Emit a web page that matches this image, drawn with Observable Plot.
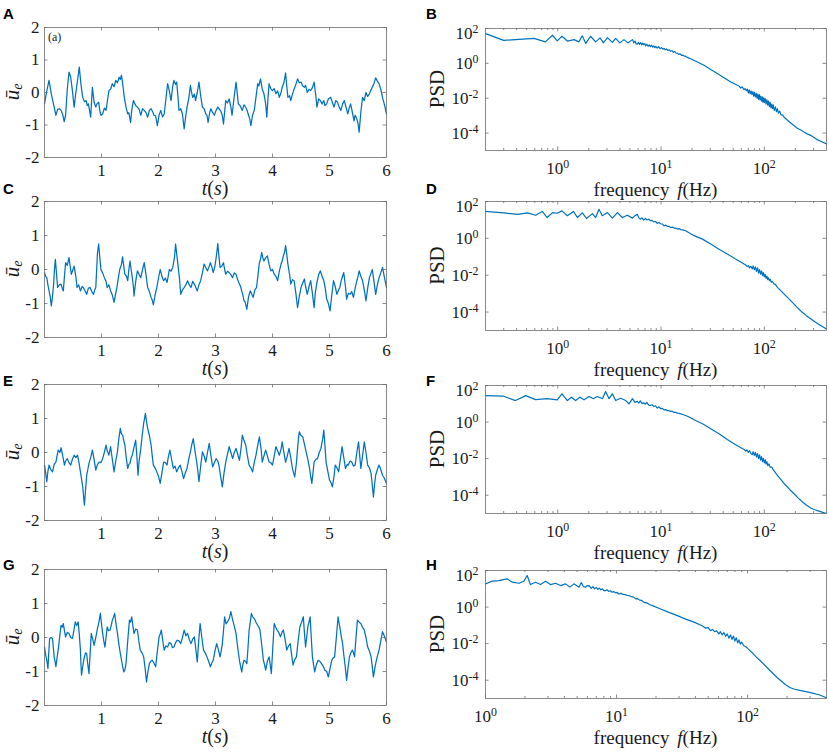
<!DOCTYPE html>
<html><head><meta charset="utf-8">
<script src="https://cdn.jsdelivr.net/npm/d3@7"></script>
<script src="https://cdn.jsdelivr.net/npm/@observablehq/plot@0.6"></script>
<style>
body{margin:0;background:#fff;}
#fig{position:relative;width:829px;height:752px;overflow:hidden;}
#fig svg{position:absolute;overflow:visible;}
#fig svg text.serif{font-family:'Liberation Serif','Times New Roman',serif;}
</style></head><body><div id="fig"></div><script>
// ---------- tick values ----------
const timeTicks = [1,2,3,4,5,6];
const ueTicks = [-2,-1,0,1,2];
const psdTicks = [1e-4,1e-2,1,1e2];
const freqMajor = [1,10,100];
const freqMinor = [0.2,0.3,0.4,0.5,0.6,0.7,0.8,0.9,2,3,4,5,6,7,8,9,20,30,40,50,60,70,80,90,200,300,400];

// ---------- time series [t (s), ū_e] ----------
const seriesA = [[0,-0.35],[0.04,0.05],[0.08,0.37],[0.12,-0.05],[0.17,-0.45],[0.2,-0.7],[0.23,-0.52],[0.26,-0.5],[0.29,-0.55],[0.32,-0.68],[0.345,-0.9],[0.37,-0.7],[0.4,0.1],[0.43,0.63],[0.46,0.47],[0.49,0.05],[0.52,-0.45],[0.55,0.0],[0.58,0.37],[0.61,0.78],[0.64,0.25],[0.67,-0.15],[0.7,-0.28],[0.73,-0.25],[0.75,-0.4],[0.77,-0.35],[0.79,-0.55],[0.81,-0.76],[0.84,0.16],[0.87,-0.3],[0.9,-0.45],[0.92,-0.35],[0.95,-0.3],[0.97,-0.55],[0.99,-0.7],[1.02,-0.66],[1.05,-0.48],[1.08,-0.55],[1.1,-0.3],[1.13,0.06],[1.16,0.1],[1.19,0.27],[1.22,0.18],[1.25,0.37],[1.28,0.3],[1.31,0.47],[1.33,0.4],[1.35,0.53],[1.37,0.3],[1.4,-0.15],[1.43,-0.45],[1.46,-0.66],[1.48,-0.62],[1.51,-0.92],[1.53,-0.55],[1.56,-0.25],[1.6,-0.4],[1.63,-0.45],[1.66,-0.52],[1.69,-0.7],[1.72,-0.5],[1.75,-0.55],[1.78,-0.62],[1.81,-0.76],[1.84,-0.55],[1.87,-0.5],[1.9,-0.6],[1.92,-0.7],[1.95,-0.72],[1.98,-1.02],[2.01,-0.7],[2.04,-0.55],[2.07,-0.75],[2.1,-0.66],[2.13,-0.2],[2.16,0.27],[2.19,0.05],[2.22,-0.25],[2.25,0.2],[2.27,0.37],[2.3,0.25],[2.32,0.32],[2.34,-0.1],[2.36,-0.55],[2.39,-0.5],[2.42,-0.66],[2.45,-1.12],[2.48,-0.7],[2.5,-0.45],[2.53,-0.2],[2.56,0.22],[2.58,0.0],[2.6,-0.15],[2.63,-0.05],[2.65,-0.25],[2.68,0.0],[2.71,0.32],[2.74,-0.1],[2.77,-0.45],[2.8,-0.5],[2.83,-0.66],[2.85,-0.7],[2.87,-0.92],[2.9,-0.6],[2.92,-0.5],[2.95,-0.62],[2.98,-0.7],[3.01,-0.55],[3.04,-0.45],[3.07,-0.52],[3.1,-0.6],[3.12,-0.72],[3.14,-0.97],[3.16,-0.6],[3.18,-0.25],[3.21,-0.32],[3.24,-0.2],[3.27,-0.45],[3.29,-0.7],[3.33,-0.1],[3.36,0.32],[3.38,0.0],[3.4,-0.35],[3.43,-0.4],[3.47,-0.55],[3.5,-0.38],[3.53,-0.45],[3.56,-0.58],[3.59,-0.76],[3.6,-0.8],[3.62,-1.02],[3.65,-0.7],[3.68,-0.55],[3.71,-0.15],[3.74,0.27],[3.76,0.2],[3.79,0.42],[3.82,0.1],[3.85,-0.04],[3.88,-0.35],[3.9,-0.76],[3.92,-0.2],[3.94,0.27],[3.97,0.12],[4.0,0.06],[4.03,0.12],[4.06,-0.04],[4.09,0.05],[4.12,-0.15],[4.15,0.0],[4.17,0.16],[4.2,0.3],[4.23,0.6],[4.25,0.2],[4.27,-0.15],[4.3,-0.1],[4.32,-0.25],[4.35,-0.05],[4.38,0.11],[4.41,0.25],[4.44,0.42],[4.47,0.3],[4.5,0.32],[4.53,0.2],[4.56,0.16],[4.58,0.22],[4.61,0.0],[4.64,0.1],[4.67,0.06],[4.7,0.15],[4.73,0.32],[4.76,-0.1],[4.78,-0.45],[4.81,-0.2],[4.84,-0.25],[4.87,-0.35],[4.9,-0.25],[4.92,-0.4],[4.95,-0.35],[4.98,-0.2],[5.02,-0.15],[5.05,-0.3],[5.08,-0.45],[5.11,-0.25],[5.14,-0.3],[5.17,-0.45],[5.2,-0.55],[5.23,-0.35],[5.26,-0.25],[5.29,-0.45],[5.32,-0.66],[5.35,-0.45],[5.37,-0.35],[5.4,-0.6],[5.43,-0.87],[5.45,-0.7],[5.48,-0.81],[5.5,-0.95],[5.52,-1.22],[5.55,-0.6],[5.58,-0.15],[5.61,-0.25],[5.64,0.0],[5.67,-0.12],[5.7,-0.04],[5.72,0.05],[5.75,0.16],[5.78,0.28],[5.81,0.45],[5.84,0.35],[5.87,0.27],[5.9,0.1],[5.93,-0.15],[5.96,-0.35],[6.0,-0.66]];
const seriesC = [[0,-0.09],[0.02,-0.2],[0.04,-0.24],[0.06,-0.45],[0.08,-0.63],[0.1,-0.8],[0.12,-1.07],[0.14,-0.8],[0.16,-0.43],[0.175,0.0],[0.19,0.3],[0.21,-0.1],[0.23,-0.53],[0.26,-0.45],[0.29,-0.43],[0.31,-0.55],[0.33,-0.63],[0.35,-0.2],[0.37,0.2],[0.4,0.12],[0.43,0.35],[0.45,0.1],[0.47,-0.14],[0.5,0.0],[0.52,0.1],[0.55,-0.2],[0.57,-0.53],[0.6,-0.45],[0.63,-0.63],[0.66,-0.5],[0.68,-0.53],[0.71,-0.62],[0.74,-0.73],[0.77,-0.55],[0.8,-0.53],[0.83,-0.65],[0.86,-0.73],[0.88,-0.6],[0.9,-0.53],[0.915,0.0],[0.93,0.5],[0.95,0.75],[0.97,0.35],[0.99,0.0],[1.02,-0.1],[1.05,-0.24],[1.08,-0.35],[1.1,-0.53],[1.13,-0.45],[1.16,-0.63],[1.19,-0.75],[1.22,-0.97],[1.25,-0.7],[1.27,-0.53],[1.3,-0.2],[1.32,0.0],[1.35,0.15],[1.37,0.37],[1.39,0.1],[1.41,-0.14],[1.44,-0.2],[1.46,-0.33],[1.48,0.0],[1.5,0.25],[1.52,0.0],[1.54,-0.24],[1.56,-0.5],[1.57,-0.78],[1.6,-0.35],[1.63,-0.04],[1.66,-0.15],[1.69,-0.24],[1.72,0.0],[1.75,0.2],[1.78,-0.15],[1.81,-0.53],[1.84,-0.65],[1.87,-0.82],[1.89,-0.9],[1.91,-1.04],[1.94,-0.75],[1.97,-0.53],[2.0,-0.25],[2.03,0.0],[2.06,-0.2],[2.09,-0.33],[2.12,-0.25],[2.15,-0.38],[2.17,-0.2],[2.19,0.0],[2.22,-0.05],[2.25,0.06],[2.28,0.35],[2.3,0.75],[2.32,0.45],[2.34,0.16],[2.37,-0.3],[2.39,-0.73],[2.42,-0.6],[2.45,-0.53],[2.48,-0.45],[2.51,-0.33],[2.54,-0.45],[2.57,-0.53],[2.6,-0.35],[2.63,-0.43],[2.66,-0.55],[2.68,-0.63],[2.71,-0.45],[2.74,-0.33],[2.77,-0.1],[2.8,0.16],[2.83,0.05],[2.86,-0.04],[2.89,0.1],[2.91,0.2],[2.94,0.05],[2.96,-0.09],[2.99,0.1],[3.01,0.33],[3.03,0.6],[3.04,0.76],[3.06,0.4],[3.08,0.06],[3.11,0.1],[3.14,0.2],[3.16,0.0],[3.18,-0.14],[3.21,-0.05],[3.24,-0.09],[3.27,-0.15],[3.3,-0.24],[3.33,-0.1],[3.36,-0.14],[3.39,-0.3],[3.42,-0.43],[3.44,-0.5],[3.46,-0.63],[3.48,-0.75],[3.5,-0.92],[3.52,-0.95],[3.55,-1.17],[3.58,-0.8],[3.61,-0.63],[3.63,-0.7],[3.66,-0.82],[3.69,-0.6],[3.72,-0.53],[3.75,-0.1],[3.77,0.2],[3.79,0.3],[3.81,0.5],[3.83,0.35],[3.85,0.25],[3.88,0.35],[3.91,0.4],[3.94,0.15],[3.97,-0.04],[4.0,0.0],[4.03,-0.14],[4.06,-0.2],[4.09,-0.33],[4.12,-0.05],[4.15,0.16],[4.17,0.25],[4.19,0.4],[4.21,0.5],[4.23,0.7],[4.25,0.45],[4.27,0.16],[4.3,-0.15],[4.32,-0.43],[4.35,-0.3],[4.38,-0.33],[4.41,-0.7],[4.44,-1.12],[4.47,-0.8],[4.5,-0.53],[4.53,-0.4],[4.56,-0.28],[4.58,-0.5],[4.61,-0.73],[4.64,-0.5],[4.67,-0.33],[4.7,-0.7],[4.73,-1.12],[4.75,-0.7],[4.78,-0.38],[4.81,-0.15],[4.84,-0.04],[4.87,-0.2],[4.9,-0.33],[4.93,-0.6],[4.95,-0.87],[4.98,-1.0],[5.01,-1.22],[5.04,-0.75],[5.07,-0.33],[5.1,-0.5],[5.13,-0.73],[5.16,-0.6],[5.18,-0.53],[5.21,-0.3],[5.25,-0.09],[5.28,-0.5],[5.3,-0.87],[5.33,-0.7],[5.36,-0.73],[5.39,-0.65],[5.42,-0.82],[5.45,-0.55],[5.48,-0.33],[5.5,-0.2],[5.52,-0.04],[5.55,-0.2],[5.58,-0.33],[5.61,-0.6],[5.64,-0.92],[5.67,-0.55],[5.7,-0.24],[5.73,-0.1],[5.75,0.0],[5.78,-0.35],[5.81,-0.73],[5.84,-0.45],[5.87,-0.24],[5.9,-0.1],[5.93,0.06],[5.96,-0.2],[6.0,-0.53]];
const seriesE = [[0,-0.37],[0.02,-0.6],[0.04,-0.86],[0.06,-0.55],[0.08,-0.37],[0.11,-0.5],[0.14,-0.57],[0.17,-0.35],[0.2,-0.28],[0.22,-0.1],[0.24,0.07],[0.27,0.0],[0.29,0.14],[0.32,-0.1],[0.35,-0.37],[0.37,-0.25],[0.4,-0.18],[0.43,-0.3],[0.46,-0.37],[0.49,-0.2],[0.52,-0.08],[0.55,-0.15],[0.58,-0.08],[0.61,-0.35],[0.64,-0.67],[0.67,-1.0],[0.7,-1.55],[0.72,-1.1],[0.74,-0.67],[0.76,-0.5],[0.78,-0.32],[0.81,-0.15],[0.84,0.07],[0.87,-0.2],[0.9,-0.52],[0.93,-0.35],[0.96,-0.28],[0.99,-0.3],[1.02,-0.18],[1.05,0.0],[1.08,0.22],[1.1,0.05],[1.13,-0.08],[1.145,0.05],[1.16,0.17],[1.19,-0.2],[1.22,-0.57],[1.25,-0.25],[1.28,0.02],[1.3,0.35],[1.33,0.71],[1.35,0.55],[1.37,0.51],[1.39,0.35],[1.41,0.22],[1.43,-0.1],[1.46,-0.47],[1.48,-0.35],[1.5,-0.32],[1.52,-0.15],[1.54,-0.08],[1.57,0.15],[1.6,0.36],[1.62,-0.1],[1.64,-0.67],[1.66,-0.25],[1.69,0.12],[1.71,0.45],[1.74,0.86],[1.755,1.0],[1.77,1.15],[1.79,0.9],[1.81,0.71],[1.84,0.5],[1.87,0.22],[1.89,-0.1],[1.91,-0.37],[1.94,-0.45],[1.97,-0.57],[2.0,-0.7],[2.03,-0.91],[2.06,-0.6],[2.09,-0.28],[2.12,-0.3],[2.15,-0.37],[2.17,-0.15],[2.2,0.07],[2.23,-0.2],[2.26,-0.47],[2.29,-0.4],[2.32,-0.57],[2.35,-0.45],[2.38,-0.37],[2.41,-0.55],[2.44,-0.77],[2.47,-0.6],[2.5,-0.47],[2.53,-0.2],[2.56,0.02],[2.58,0.2],[2.61,0.41],[2.64,0.05],[2.67,-0.28],[2.69,-0.55],[2.71,-0.86],[2.74,-0.4],[2.77,0.02],[2.8,-0.1],[2.83,-0.28],[2.86,0.0],[2.89,0.27],[2.92,-0.1],[2.95,-0.42],[2.98,-0.3],[3.01,-0.18],[3.04,-0.25],[3.06,-0.37],[3.09,-0.7],[3.12,-1.01],[3.15,-0.6],[3.18,-0.28],[3.21,-0.05],[3.24,0.17],[3.27,0.0],[3.3,-0.18],[3.33,0.0],[3.36,0.12],[3.39,-0.05],[3.42,-0.23],[3.45,0.15],[3.47,0.51],[3.5,0.35],[3.53,0.22],[3.56,-0.1],[3.59,-0.37],[3.62,-0.45],[3.65,-0.57],[3.68,-0.3],[3.71,-0.08],[3.74,0.2],[3.77,0.46],[3.8,0.1],[3.82,-0.28],[3.85,-0.1],[3.88,0.07],[3.91,-0.1],[3.94,-0.28],[3.97,-0.3],[4.0,-0.37],[4.03,-0.1],[4.06,0.17],[4.09,0.05],[4.12,-0.08],[4.15,0.1],[4.17,0.31],[4.2,0.0],[4.23,-0.28],[4.26,-0.1],[4.29,0.12],[4.32,-0.15],[4.35,-0.47],[4.37,-0.6],[4.39,-0.72],[4.42,-0.3],[4.44,0.12],[4.455,0.4],[4.47,0.61],[4.5,0.5],[4.53,0.46],[4.56,0.25],[4.59,0.02],[4.62,-0.2],[4.65,-0.47],[4.67,-0.7],[4.69,-0.91],[4.71,-0.6],[4.73,-0.28],[4.76,-0.2],[4.79,-0.18],[4.82,0.0],[4.85,0.12],[4.88,0.4],[4.9,0.66],[4.92,0.2],[4.94,-0.28],[4.97,-0.55],[5.0,-0.81],[5.03,-0.9],[5.05,-1.01],[5.08,-0.7],[5.1,-0.37],[5.13,-0.45],[5.16,-0.57],[5.19,-0.2],[5.22,0.17],[5.25,-0.15],[5.28,-0.47],[5.31,-0.35],[5.33,-0.37],[5.36,-0.25],[5.39,-0.28],[5.42,-0.4],[5.45,-0.37],[5.48,0.0],[5.51,0.31],[5.53,-0.1],[5.55,-0.47],[5.58,-0.1],[5.61,0.31],[5.64,0.0],[5.67,-0.37],[5.7,-0.45],[5.73,-0.62],[5.75,-0.95],[5.77,-1.31],[5.79,-0.95],[5.81,-0.67],[5.84,-0.5],[5.87,-0.37],[5.9,-0.5],[5.93,-0.67],[5.96,-0.75],[6.0,-0.91]];
const seriesG = [[0,-0.28],[0.02,-0.5],[0.04,-0.67],[0.06,-0.91],[0.075,-0.45],[0.09,-0.03],[0.115,0.0],[0.14,-0.03],[0.155,-0.3],[0.17,-0.57],[0.185,-0.7],[0.2,-0.86],[0.22,-0.6],[0.24,-0.37],[0.265,0.0],[0.29,0.36],[0.31,0.3],[0.33,0.41],[0.35,0.2],[0.37,0.02],[0.4,0.15],[0.43,0.12],[0.46,0.0],[0.49,-0.03],[0.515,0.2],[0.54,0.46],[0.565,0.35],[0.59,0.46],[0.61,0.1],[0.63,-0.37],[0.64,-0.8],[0.65,-1.11],[0.675,-0.8],[0.7,-0.57],[0.72,-0.45],[0.74,-0.47],[0.76,-0.8],[0.78,-1.06],[0.8,-0.5],[0.82,0.12],[0.845,-0.05],[0.87,-0.23],[0.9,0.0],[0.93,0.27],[0.955,0.45],[0.98,0.71],[1.0,0.4],[1.02,0.12],[1.04,-0.1],[1.06,-0.28],[1.08,0.0],[1.1,0.31],[1.125,0.2],[1.15,0.22],[1.17,0.35],[1.19,0.51],[1.21,0.6],[1.23,0.71],[1.255,0.4],[1.28,0.12],[1.305,-0.2],[1.33,-0.47],[1.36,-0.75],[1.39,-1.01],[1.41,-0.95],[1.43,-0.77],[1.46,-0.1],[1.49,0.51],[1.51,0.45],[1.53,0.61],[1.55,0.35],[1.57,0.12],[1.6,0.25],[1.63,0.22],[1.655,-0.1],[1.68,-0.37],[1.71,-0.45],[1.74,-0.57],[1.765,-0.9],[1.79,-1.31],[1.815,-1.0],[1.84,-0.77],[1.865,-0.7],[1.89,-0.67],[1.92,-0.75],[1.95,-0.86],[1.98,-0.4],[2.01,0.02],[2.03,0.1],[2.05,0.22],[2.075,-0.1],[2.1,-0.37],[2.13,-0.25],[2.16,-0.28],[2.19,-0.15],[2.22,-0.18],[2.245,-0.3],[2.27,-0.28],[2.3,-0.15],[2.33,-0.08],[2.36,-0.1],[2.39,-0.18],[2.42,0.0],[2.45,0.22],[2.48,0.05],[2.51,0.12],[2.54,-0.05],[2.57,-0.18],[2.6,-0.05],[2.63,0.02],[2.655,-0.35],[2.68,-0.72],[2.705,-0.1],[2.73,0.41],[2.76,0.0],[2.79,-0.37],[2.82,-0.45],[2.85,-0.57],[2.88,-0.7],[2.91,-0.86],[2.935,-0.75],[2.96,-0.67],[2.99,-0.4],[3.02,-0.18],[3.05,-0.35],[3.08,-0.57],[3.1,-0.4],[3.12,-0.18],[3.14,0.2],[3.16,0.61],[3.185,0.4],[3.21,0.46],[3.24,0.55],[3.27,0.76],[3.29,0.6],[3.31,0.46],[3.335,0.3],[3.36,0.12],[3.39,-0.3],[3.42,-0.67],[3.44,-0.85],[3.46,-1.01],[3.48,-0.8],[3.5,-0.67],[3.525,-0.7],[3.55,-0.77],[3.57,-0.3],[3.59,0.22],[3.61,0.45],[3.63,0.71],[3.655,0.6],[3.68,0.56],[3.71,0.45],[3.74,0.36],[3.76,0.3],[3.78,0.22],[3.81,-0.2],[3.84,-0.67],[3.86,-0.8],[3.88,-0.96],[3.91,-0.7],[3.94,-0.57],[3.96,-0.8],[3.98,-1.06],[4.005,-0.3],[4.03,0.41],[4.055,0.3],[4.08,0.22],[4.11,0.15],[4.14,0.02],[4.165,0.15],[4.19,0.22],[4.22,-0.05],[4.25,-0.37],[4.28,-0.25],[4.31,-0.18],[4.335,-0.5],[4.36,-0.81],[4.39,-0.65],[4.42,-0.57],[4.45,-0.1],[4.48,0.31],[4.51,0.45],[4.54,0.61],[4.56,0.15],[4.58,-0.28],[4.6,0.0],[4.62,0.31],[4.64,0.45],[4.66,0.61],[4.68,0.0],[4.7,-0.57],[4.72,-0.8],[4.74,-1.01],[4.77,-0.8],[4.8,-0.67],[4.83,-0.7],[4.86,-0.77],[4.89,-0.85],[4.92,-0.96],[4.95,-1.0],[4.98,-1.16],[5.01,-0.9],[5.04,-0.67],[5.065,-0.6],[5.09,-0.57],[5.12,0.0],[5.15,0.61],[5.165,0.45],[5.18,0.31],[5.205,0.05],[5.23,-0.18],[5.25,-0.5],[5.27,-0.77],[5.285,-1.0],[5.3,-1.26],[5.325,-0.9],[5.35,-0.57],[5.375,-0.45],[5.4,-0.37],[5.42,-0.45],[5.44,-0.57],[5.465,0.0],[5.49,0.51],[5.52,0.45],[5.55,0.41],[5.58,0.3],[5.61,0.22],[5.64,0.0],[5.67,-0.28],[5.7,-0.4],[5.73,-0.57],[5.75,-0.85],[5.77,-1.16],[5.79,-0.95],[5.81,-0.77],[5.84,-0.55],[5.87,-0.37],[5.9,-0.1],[5.93,0.17],[5.96,0.05],[6.0,-0.13]];

// ---------- PSD spectra [f (Hz), PSD] ----------
const psdB = [[0.2,51],[0.3,21],[0.59,27],[0.76,17],[0.89,41],[0.99,19.5],[1.1,36],[1.24,19],[1.44,23],[1.6,17],[1.73,38],[1.87,14],[2.08,36],[2.33,17],[2.57,29],[2.77,15],[3.03,30],[3.38,16],[3.64,27],[4.0,15],[4.38,23],[4.79,15],[5.3,23],[5.45,15],[5.6,19],[5.75,13],[5.9,12.5],[6.05,16],[6.2,12],[6.35,15.5],[6.5,11.5],[6.65,14.5],[6.8,12],[6.95,13.7],[7.1,10],[7.3,12.5],[7.5,9.5],[7.7,11.5],[7.9,9],[8.1,11],[8.3,8.5],[8.5,10],[8.7,8],[8.9,9.5],[9.2,7.5],[9.5,9],[9.8,7],[10.1,8],[10.4,6.5],[10.7,7.3],[11,6],[11.3,6.8],[11.6,5.5],[12,5.9],[12.4,5.0],[12.8,5.3],[13.2,4.3],[13.6,4.8],[14,3.8],[14.4,3.9],[14.8,3.3],[15.3,3.5],[15.8,2.9],[16.3,3.0],[16.8,2.6],[17.4,2.5],[18,2.2],[18.7,2.0],[19.4,1.85],[22.5,1.2],[26.1,0.78],[30.3,0.44],[35.1,0.26],[40.8,0.15],[47.3,0.085],[54.9,0.055],[57,0.05],[59,0.038],[61,0.045],[63.7,0.031],[65,0.036],[67,0.027],[68.5,0.033],[70,0.02],[71.5,0.03],[73,0.018],[74.5,0.026],[76,0.016],[77.5,0.024],[79,0.013],[80.5,0.022],[82,0.012],[83.5,0.019],[85,0.01],[86.5,0.017],[88,0.0085],[89.5,0.016],[91,0.008],[92.5,0.013],[94,0.0068],[95.5,0.012],[97,0.006],[98.5,0.0105],[100,0.0055],[102,0.0098],[104,0.0045],[106,0.0082],[108,0.004],[110,0.0068],[112,0.0033],[114,0.0058],[116,0.0028],[118,0.0046],[120,0.0025],[122,0.0042],[125,0.002],[128,0.0032],[131,0.0017],[134,0.0025],[137,0.0014],[141,0.0018],[145,0.0011],[150,0.0011],[155,8.4e-4],[167,5.6e-4],[180,3.8e-4],[194,2.7e-4],[209,1.9e-4],[225,1.5e-4],[242,1.15e-4],[260,9e-5],[281,7.4e-5],[300,5.8e-5],[326,4.2e-5],[360,3.2e-5],[400,2.4e-5]];
const psdD = [[0.2,29],[0.3,24],[0.41,20],[0.51,24],[0.61,18],[0.71,29],[0.79,13.5],[0.89,25],[0.99,23],[1.1,31],[1.24,17],[1.42,29],[1.55,13.5],[1.73,24],[1.9,12],[2.17,22],[2.33,13.5],[2.51,38],[2.7,17],[3.03,25],[3.38,12.5],[3.78,25],[4.23,13.5],[4.72,18],[5.3,12.5],[5.6,17],[5.9,20],[6.1,13],[6.3,11],[6.55,13],[6.8,9.7],[7.05,12],[7.3,10],[7.6,11],[7.9,9],[8.2,9.5],[8.5,7.8],[8.85,8.2],[9.2,6.5],[9.55,7.2],[9.9,6.2],[10.3,6.0],[10.7,4.8],[11.1,5.2],[11.5,4.5],[11.9,4.5],[12.4,3.9],[12.9,4.1],[13.4,3.6],[13.9,3.6],[14.4,3.2],[15,3.4],[15.5,3.0],[16.2,2.9],[17.3,2.6],[18.5,2.1],[20.9,1.4],[25.2,0.91],[30.3,0.49],[36.4,0.26],[43.8,0.14],[52.7,0.075],[63.7,0.041],[66,0.036],[68,0.03],[70,0.033],[72,0.025],[74,0.03],[76.5,0.022],[78,0.032],[80,0.02],[82,0.028],[84,0.016],[86,0.025],[88,0.013],[90,0.02],[92,0.0115],[94,0.017],[96,0.0095],[98,0.014],[100,0.0082],[102,0.011],[104,0.0068],[106,0.009],[108,0.0058],[110,0.0072],[112,0.005],[114,0.006],[117,0.0042],[120,0.0045],[124,0.0034],[128,0.0032],[134,0.0022],[145,0.0014],[161,7.8e-4],[177,4.6e-4],[194,2.7e-4],[212,1.6e-4],[233,9.7e-5],[255,6.4e-5],[281,4.3e-5],[308,3e-5],[338,2.1e-5],[368,1.6e-5],[400,1.2e-5]];
const psdF = [[0.2,28],[0.3,26],[0.39,15],[0.49,28],[0.61,17],[0.79,19],[0.99,16.5],[1.1,35],[1.24,15],[1.36,23],[1.49,15],[1.64,23],[1.8,16.5],[2.01,25],[2.21,19],[2.42,25],[2.71,19],[2.91,47],[3.14,19],[3.38,35],[3.64,15],[4.07,20],[4.55,15],[4.9,10],[5.3,19],[5.6,12],[5.9,13.5],[6.1,11],[6.3,14.5],[6.55,10.5],[6.8,11.3],[7.05,9.5],[7.3,12],[7.6,8.5],[7.9,8.1],[8.2,8.8],[8.5,7.2],[8.85,7.8],[9.2,5.8],[9.55,6.8],[9.9,5.5],[10.3,5.6],[10.7,4.7],[11.1,4.8],[11.5,4.2],[11.9,4.2],[12.4,3.8],[12.9,3.8],[13.4,3.4],[13.9,3.4],[14.4,3.1],[15,3.0],[15.5,2.8],[16.2,2.6],[17.3,2.3],[18.5,1.95],[20.9,1.34],[25.2,0.81],[30.3,0.43],[36.4,0.23],[43.8,0.11],[52.7,0.057],[63.7,0.032],[66,0.026],[68,0.03],[70,0.022],[72,0.027],[74,0.019],[76.5,0.0165],[78,0.024],[80,0.015],[82,0.022],[84,0.012],[86,0.019],[88,0.01],[90,0.016],[92,0.0082],[94,0.013],[96,0.0068],[98,0.0105],[100,0.0058],[102,0.0085],[104,0.005],[106,0.0068],[108,0.0042],[111,0.0052],[114,0.0034],[118,0.0035],[122,0.0025],[125,0.0021],[134,0.0012],[147,6.5e-4],[161,3.5e-4],[177,2e-4],[194,1.2e-4],[212,7.2e-5],[233,4.4e-5],[255,2.9e-5],[281,2.0e-5],[308,1.6e-5],[338,1.35e-5],[368,1.15e-5],[400,1.0e-5]];
const psdH = [[1,18.6],[1.12,26],[1.26,28],[1.46,35],[1.6,23],[1.8,20],[1.96,26],[2.08,53],[2.2,17],[2.41,23],[2.63,17],[2.87,26],[3.13,17],[3.42,20],[3.74,15],[4.08,18.6],[4.41,12.3],[4.73,18.6],[5.17,12.3],[5.38,22],[5.6,13],[5.81,12.3],[6.0,15],[6.2,14.5],[6.4,10.5],[6.6,13],[6.8,10],[7,12],[7.2,9.3],[7.4,11],[7.6,8.8],[7.8,10],[8.0,8],[8.23,7.9],[8.45,8.8],[8.7,7.2],[8.95,7.8],[9.25,6.5],[9.5,7],[9.8,6],[10.1,6.3],[10.4,5.2],[10.8,5.6],[11.2,4.9],[11.6,4.8],[12.1,4.3],[12.5,4.2],[13,3.7],[13.5,3.5],[14,2.8],[14.5,2.9],[15,2.4],[15.6,2.3],[16.2,1.8],[17,1.7],[18,1.35],[18.8,1.2],[21.7,0.79],[25.1,0.51],[29.1,0.34],[33.7,0.22],[39,0.15],[45,0.096],[48,0.07],[50,0.075],[52.1,0.051],[54,0.06],[56,0.045],[58,0.05],[60.4,0.034],[62,0.045],[64,0.03],[66,0.04],[68,0.025],[70,0.034],[72,0.02],[74,0.03],[76,0.017],[78,0.026],[80,0.014],[82,0.021],[84,0.011],[86,0.016],[88,0.0095],[90,0.012],[93.6,0.0077],[97,0.0068],[100,0.0055],[108,0.0033],[116,0.0019],[125,0.00116],[145,4.0e-4],[168,1.4e-4],[195,5.6e-5],[210,4.0e-5],[225,3.3e-5],[261,2.6e-5],[302,2.1e-5],[350,1.6e-5],[400,1.1e-5]];

// ---------- rendering ----------
const fig = document.getElementById("fig");
const BLUE = "#0072BD", INK = "#1a1a1a", FRAME = "#6e6e6e";
const SERIF = "'Liberation Serif','Times New Roman',serif";
const NS = "http://www.w3.org/2000/svg";
const TICKFONT = 17;

function place(svg, left, top) {
  svg.style.left = left + "px"; svg.style.top = top + "px";
  fig.appendChild(svg);
}
function serifAll(svg) {
  svg.querySelectorAll("text").forEach(t => { t.classList.add("serif"); t.style.fontFamily = SERIF; });
}
function supFix(svg) {
  svg.querySelectorAll("text").forEach(t => {
    const m = t.textContent.match(/^10\^(-?\d+)$/);
    if (m) {
      const isY = (t.parentNode.getAttribute("aria-label") || "").startsWith("y-axis");
      t.textContent = "10";
      const ts = document.createElementNS(NS, "tspan");
      ts.setAttribute("dy", "-0.5em");
      ts.setAttribute("font-size", "0.7em");
      ts.textContent = m[1];
      t.appendChild(ts);
      if (isY && m[1] === "2") t.setAttribute("dy", "5");
    }
  });
}
const pow = d => "10^" + Math.round(Math.log10(d));

function timePanel(series, [x0, y0, x1, y1]) {
  const m = {l: 44, r: 14, t: 14, b: 50};
  const fw = x1 - x0, fh = y1 - y0;
  const svg = Plot.plot({
    width: fw + m.l + m.r, height: fh + m.t + m.b,
    marginLeft: m.l, marginRight: m.r, marginTop: m.t, marginBottom: m.b,
    style: {fontFamily: SERIF, fontSize: TICKFONT + "px", color: INK, background: "transparent", overflow: "visible"},
    x: {domain: [0, 6]}, y: {domain: [-2, 2]},
    marks: [
      Plot.line(series, {x: d => d[0], y: d => d[1], stroke: BLUE, strokeWidth: 1.25}),
      Plot.frame({stroke: FRAME, strokeWidth: 0.8}),
      Plot.tickX(timeTicks, {x: d => d, insetTop: fh - 3.5, stroke: FRAME, strokeWidth: 0.8}),
      Plot.tickX(timeTicks, {x: d => d, insetBottom: fh - 3.5, stroke: FRAME, strokeWidth: 0.8}),
      Plot.tickY(ueTicks, {y: d => d, insetRight: fw - 3.5, stroke: FRAME, strokeWidth: 0.8}),
      Plot.tickY(ueTicks, {y: d => d, insetLeft: fw - 3.5, stroke: FRAME, strokeWidth: 0.8}),
      Plot.axisX(timeTicks, {anchor: "bottom", tickSize: 0, tickPadding: 6, tickFormat: d => String(d), label: null, fontSize: TICKFONT, fontFamily: SERIF, fill: INK}),
      Plot.axisY(ueTicks, {anchor: "left", tickSize: 0, tickPadding: 5, tickFormat: d => String(d), label: null, fontSize: TICKFONT, fontFamily: SERIF, fill: INK})
    ]
  });
  serifAll(svg);
  place(svg, x0 - m.l, y0 - m.t);
}

function psdPanel(series, [x0, y0, x1, y1], xDomain) {
  const m = {l: 60, r: 14, t: 14, b: 50};
  const fw = x1 - x0, fh = y1 - y0;
  const minor = freqMinor.filter(f => f > xDomain[0] && f < xDomain[1]);
  const svg = Plot.plot({
    width: fw + m.l + m.r, height: fh + m.t + m.b,
    marginLeft: m.l, marginRight: m.r, marginTop: m.t, marginBottom: m.b,
    style: {fontFamily: SERIF, fontSize: TICKFONT + "px", color: INK, background: "transparent", overflow: "visible"},
    x: {type: "log", domain: xDomain}, y: {type: "log", domain: [1e-5, 1e2]},
    marks: [
      Plot.line(series, {x: d => d[0], y: d => d[1], stroke: BLUE, strokeWidth: 1.2}),
      Plot.frame({stroke: FRAME, strokeWidth: 0.8}),
      Plot.tickX(freqMajor, {x: d => d, insetTop: fh - 3.5, stroke: FRAME, strokeWidth: 0.8}),
      Plot.tickX(freqMajor, {x: d => d, insetBottom: fh - 3.5, stroke: FRAME, strokeWidth: 0.8}),
      Plot.tickX(minor, {x: d => d, insetTop: fh - 2, stroke: FRAME, strokeWidth: 0.8}),
      Plot.tickX(minor, {x: d => d, insetBottom: fh - 2, stroke: FRAME, strokeWidth: 0.8}),
      Plot.tickY(psdTicks, {y: d => d, insetRight: fw - 3.5, stroke: FRAME, strokeWidth: 0.8}),
      Plot.tickY(psdTicks, {y: d => d, insetLeft: fw - 3.5, stroke: FRAME, strokeWidth: 0.8}),
      Plot.axisX(freqMajor, {anchor: "bottom", tickSize: 0, tickPadding: 11, tickFormat: pow, label: null, fontSize: TICKFONT, fontFamily: SERIF, fill: INK}),
      Plot.axisY(psdTicks, {anchor: "left", tickSize: 0, tickPadding: 7, tickFormat: pow, label: null, fontSize: TICKFONT, fontFamily: SERIF, fill: INK})
    ]
  });
  supFix(svg);
  serifAll(svg);
  place(svg, x0 - m.l, y0 - m.t);
}

const leftFrames = [[44, 27, 386, 157], [44, 201, 386, 337], [44, 384, 386, 520], [44, 569, 386, 705]];
const rightFrames = [[485, 28, 826, 150], [485, 201, 826, 330], [485, 385, 826, 513], [485, 570, 826, 698]];
[seriesA, seriesC, seriesE, seriesG].forEach((s, i) => timePanel(s, leftFrames[i]));
psdPanel(psdB, rightFrames[0], [0.2, 400]);
psdPanel(psdD, rightFrames[1], [0.2, 400]);
psdPanel(psdF, rightFrames[2], [0.2, 400]);
psdPanel(psdH, rightFrames[3], [1, 400]);

// ---------- labels overlay ----------
const ov = d3.select(fig).append("svg").attr("width", 829).attr("height", 752)
  .style("left", "0px").style("top", "0px").style("pointer-events", "none");
const leftLetters = ["A", "C", "E", "G"], rightLetters = ["B", "D", "F", "H"];
const letterY = [13, 188, 380, 564];
leftFrames.forEach(([x0, y0, x1, y1], i) => {
  ov.append("text").attr("x", 3).attr("y", letterY[i] + 5.5)
    .attr("font-family", "'Liberation Sans',Arial,sans-serif").attr("font-weight", "bold").attr("font-size", 15)
    .attr("fill", "#000").text(leftLetters[i]);
  const xl = ov.append("text").attr("class", "serif").attr("x", (x0 + x1) / 2).attr("y", y1 + 38).attr("text-anchor", "middle")
    .attr("font-family", SERIF).attr("font-size", 20).attr("fill", INK);
  xl.append("tspan").attr("font-style", "italic").text("t");
  xl.append("tspan").text("(");
  xl.append("tspan").attr("font-style", "italic").text("s");
  xl.append("tspan").text(")");
  const yl = ov.append("text").attr("class", "serif").attr("transform", `translate(19,${(y0 + y1) / 2}) rotate(-90)`).attr("text-anchor", "middle")
    .attr("font-family", SERIF).attr("font-size", 21).attr("font-style", "italic").attr("fill", INK);
  yl.append("tspan").text("ū");
  yl.append("tspan").attr("font-size", 14).attr("dy", 3).text("e");
});
rightFrames.forEach(([x0, y0, x1, y1], i) => {
  ov.append("text").attr("x", 426).attr("y", letterY[i] + 5.5)
    .attr("font-family", "'Liberation Sans',Arial,sans-serif").attr("font-weight", "bold").attr("font-size", 15)
    .attr("fill", "#000").text(rightLetters[i]);
  const xl = ov.append("text").attr("class", "serif").attr("x", (x0 + x1) / 2).attr("y", y1 + 46).attr("text-anchor", "middle")
    .attr("font-family", SERIF).attr("font-size", 19).attr("fill", INK);
  xl.append("tspan").text("frequency ");
  xl.append("tspan").attr("font-style", "italic").attr("dx", 3).text("f");
  xl.append("tspan").text("(Hz)");
  ov.append("text").attr("class", "serif").attr("transform", `translate(444,${(y0 + y1) / 2}) rotate(-90)`).attr("text-anchor", "middle")
    .attr("font-family", SERIF).attr("font-size", 21).attr("fill", INK).text("PSD");
});
ov.append("text").attr("class", "serif").attr("x", 48).attr("y", 41).attr("font-family", SERIF).attr("font-size", 12).attr("fill", INK).text("(a)");
</script></body></html>
